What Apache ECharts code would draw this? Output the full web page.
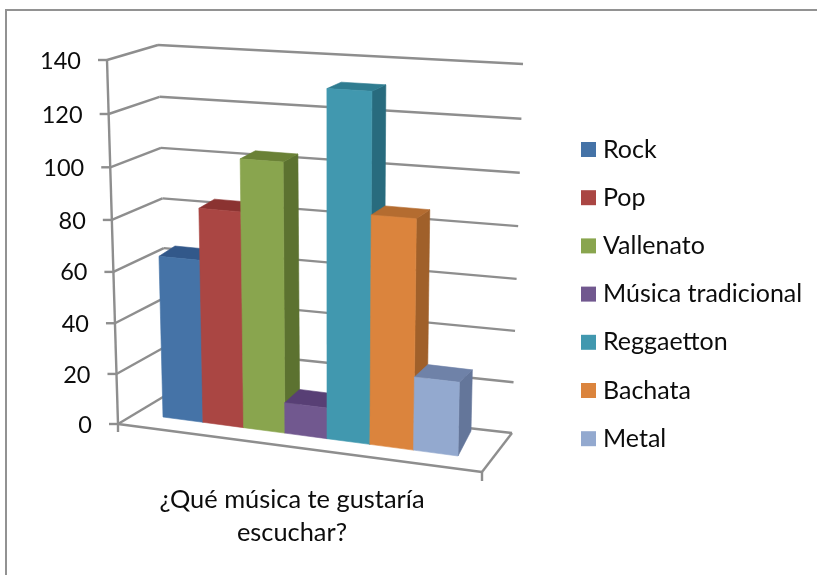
<!DOCTYPE html>
<html>
<head>
<meta charset="utf-8">
<style>html,body{margin:0;padding:0;background:#fff}#chart{width:817px;height:575px}</style>
<script src="https://cdn.jsdelivr.net/npm/echarts@6/dist/echarts.min.js"></script>
</head>
<body>
<div id="chart"></div>
<script>
// Survey results
const categories = ['¿Qué música te gustaría escuchar?'];
const seriesNames = ['Rock', 'Pop', 'Vallenato', 'Música tradicional', 'Reggaetton', 'Bachata', 'Metal'];
const seriesValues = [64, 84, 104, 12, 132, 87, 28];
const tickLabels = [0, 20, 40, 60, 80, 100, 120, 140];

// Face shades of each column
const frontColors = ['#4573A7', '#AA4643', '#89A54E', '#71588F', '#4198AF', '#DB843D', '#93A9CF'];
const topColors = ['#32588A', '#8B3331', '#6A8136', '#583F75', '#2F7C90', '#B46C30', '#6F82A8'];
const sideColors = ['#2C4F7C', '#7C2E2C', '#5C7230', '#4D3767', '#286B7E', '#A0602A', '#64769A'];

const FONT = 'Lato, Carlito, "Noto Sans", sans-serif';
const TICK_SIZE = 23.5;
const TEXT_SIZE = 25;
const INK = '#0c0c0c';
const LINE = '#8e8e8e';
const GRID = { left: 118, top: 60, width: 348, height: 364 };

// Perspective: equal steps along an axis grow towards the viewer
function warp(t, r) { return t / (t + (1 - t) * r); }
function mix(a, b, t) { return [a[0] + (b[0] - a[0]) * t, a[1] + (b[1] - a[1]) * t]; }

// Chart box corners on screen
const BOX = {
  frontBottomLeft: [118, 424], frontTopLeft: [107, 60],
  backBottomLeft: [168, 394], backTopLeft: [158, 45],
  backBottomRight: [512, 433], backTopRight: [523, 64],
  frontBottomRight: [482, 472]
};
// Plane of the columns' front faces
const BARS = {
  bottomLeft: [163, 417], bottomRight: [458, 456],
  topLeft: [154, 57], topRight: [465, 74]
};
const V_WARP = 1.045, U_WARP = 1.065;

function barFront(u, v) {
  const uw = warp(u, U_WARP), vw = warp(v, V_WARP);
  return mix(mix(BARS.bottomLeft, BARS.bottomRight, uw), mix(BARS.topLeft, BARS.topRight, uw), vw);
}
// Depth of a column, shrinking vertically as the view flattens towards the top
function barBack(u, v) {
  const p = barFront(u, v), uw = warp(u, U_WARP);
  return [p[0] + 16 - 3 * uw, p[1] - (6 + 8 * (1 - v))];
}

function poly(points, fill) {
  return { type: 'polygon', shape: { points }, style: { fill, stroke: fill, lineWidth: 0.6 } };
}
function seg(a, b, w) {
  return { type: 'line', shape: { x1: a[0], y1: a[1], x2: b[0], y2: b[1] }, style: { stroke: LINE, lineWidth: w || 2.4, fill: null } };
}

// One column: front, top and right faces
function renderColumn(index) {
  return function (params, api) {
    const base = api.coord([api.value(0), 0]);
    const head = api.coord([api.value(0), api.value(1)]);
    const band = api.size([1, 0])[0];
    const step = band / seriesNames.length;
    const left = base[0] - band / 2 + index * step;
    const u0 = (left - GRID.left) / GRID.width;
    const u1 = (left + step - GRID.left) / GRID.width;
    const v = (base[1] - head[1]) / GRID.height;
    const fl = barFront(u0, 0), fr = barFront(u1, 0), tl = barFront(u0, v), tr = barFront(u1, v);
    const btl = barBack(u0, v), btr = barBack(u1, v), bfr = barBack(u1, 0);
    bfr[1] -= 11;
    return {
      type: 'group',
      children: [
        poly([tr, btr, bfr, fr], sideColors[index]),
        poly([tl, btl, btr, tr], topColors[index]),
        poly([fl, fr, tr, tl], frontColors[index])
      ]
    };
  };
}

// Walls, floor, ticks and value labels, one tick level at a time
function renderLevel(params, api) {
  const value = api.value(1);
  const base = api.coord([0, 0])[1];
  const v = warp((base - api.coord([0, value])[1]) / GRID.height, V_WARP);
  const front = mix(BOX.frontBottomLeft, BOX.frontTopLeft, v);
  const back = mix(BOX.backBottomLeft, BOX.backTopLeft, v);
  const right = mix(BOX.backBottomRight, BOX.backTopRight, v);
  const children = [
    seg(front, back), seg(back, right),
    seg([front[0] - 9, front[1]], front),
    {
      type: 'text',
      style: {
        x: front[0] - 26, y: front[1] + 1, text: String(value), textAlign: 'right', textVerticalAlign: 'middle',
        font: TICK_SIZE + 'px ' + FONT, fill: INK
      }
    }
  ];
  if (value === 0) {
    const fbr = BOX.frontBottomRight;
    children.push(
      seg(BOX.frontBottomLeft, fbr), seg(fbr, BOX.backBottomRight),
      seg(BOX.frontBottomLeft, BOX.frontTopLeft),
      seg(BOX.frontBottomLeft, [118, 432]), seg(fbr, [482, 481])
    );
  }
  return { type: 'group', children };
}

const columnSeries = seriesNames.map((name, i) => ({
  type: 'custom',
  name,
  coordinateSystem: 'cartesian2d',
  clip: false,
  z: 3 + i,
  itemStyle: { color: frontColors[i] },
  encode: { x: 0, y: 1 },
  data: [[0, seriesValues[i]]],
  renderItem: renderColumn(i)
}));

const chart = echarts.init(document.getElementById('chart'), null, { renderer: 'canvas' });
chart.setOption({
  animation: false,
  backgroundColor: '#fff',
  grid: GRID,
  xAxis: {
    type: 'category',
    data: categories,
    axisLine: { show: false },
    axisTick: { show: false },
    axisLabel: {
      margin: 59, lineHeight: 33, interval: 0, color: INK, fontFamily: FONT, fontSize: 25.4,
      formatter: label => label.replace(' escuchar', '\nescuchar')
    }
  },
  yAxis: {
    type: 'value', min: 0, max: 140, interval: 20,
    axisLine: { show: false }, axisTick: { show: false },
    axisLabel: { show: false }, splitLine: { show: false }
  },
  legend: {
    orient: 'vertical',
    left: 581, top: 137,
    padding: 0,
    icon: 'rect',
    itemWidth: 15, itemHeight: 15, itemGap: 23.2,
    data: seriesNames,
    selectedMode: false,
    textStyle: { fontFamily: FONT, fontSize: TEXT_SIZE, color: INK, lineHeight: 15, padding: [0, 0, 0, 2], height: 15 }
  },
  graphic: [
    { type: 'line', shape: { x1: 5, y1: 10, x2: 817, y2: 10 }, style: { stroke: '#929292', lineWidth: 2 } },
    { type: 'line', shape: { x1: 6, y1: 10, x2: 6, y2: 575 }, style: { stroke: '#929292', lineWidth: 2 } }
  ],
  series: [{
    type: 'custom',
    name: 'Niveles',
    coordinateSystem: 'cartesian2d',
    clip: false,
    z: 2,
    encode: { x: 0, y: 1 },
    data: tickLabels.map(t => [0, t]),
    renderItem: renderLevel
  }].concat(columnSeries)
});
</script>
</body>
</html>
